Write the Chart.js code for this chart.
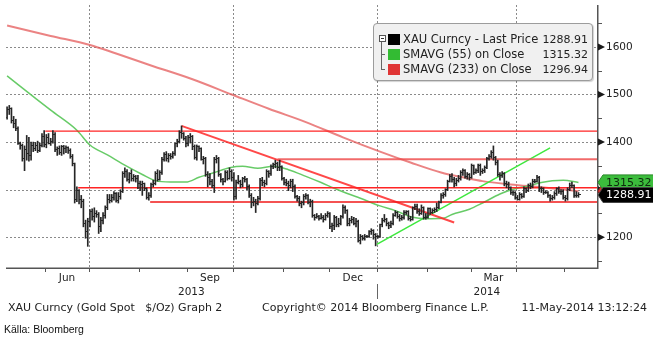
<!DOCTYPE html>
<html>
<head>
<meta charset="utf-8">
<script src="https://cdn.jsdelivr.net/npm/chart.js@4.4.1/dist/chart.umd.min.js"></script>
<style>
  html, body { margin: 0; padding: 0; background: #fff; }
  #wrap { position: relative; width: 653px; height: 339px; overflow: hidden;
          font-family: "DejaVu Sans", sans-serif; color: #222; }
  #wrap canvas { position: absolute; left: 0; top: 0; }
  .legend { position: absolute; left: 373px; top: 23px; width: 220px; height: 58px;
            box-sizing: border-box; background: #f0f0f0; border: 1px solid #9c9c9c;
            border-radius: 4px; box-shadow: 1px 1px 1px rgba(0,0,0,0.18); }
  .row { position: absolute; left: 0; width: 100%; height: 15px; font-size: 11.5px; line-height: 15px; }
  .sw { position: absolute; left: 14px; top: 2px; width: 12px; height: 11px; }
  .lbl { position: absolute; left: 29px; top: 0; white-space: pre; }
  .val { position: absolute; right: 4px; top: 0; font-size: 11px; }
  .tree-box { position: absolute; left: 5px; top: 11px; width: 5px; height: 5px; border: 1px solid #555; background: #fff; }
  .tree-box:after { content: ""; position: absolute; left: 1px; top: 2px; width: 3px; height: 1px; background: #333; }
  .tree-v { position: absolute; left: 7px; top: 18px; width: 1px; height: 27px; background: #666; }
  .tree-h { position: absolute; left: 7px; width: 4px; height: 1px; background: #666; }
  .foot { position: absolute; top: 300px; font-size: 11px; line-height: 15px; white-space: pre; color: #222; }
  .src { position: absolute; left: 4px; top: 322px; font-family: "Liberation Sans Narrow", "Liberation Sans", sans-serif;
         font-size: 10.5px; line-height: 14px; color: #111; }
</style>
</head>
<body>
<div id="wrap">
  <canvas id="chart" width="653" height="339"></canvas>
  <div class="legend">
    <div class="tree-box"></div>
    <div class="tree-v"></div>
    <div class="tree-h" style="top:30px"></div>
    <div class="tree-h" style="top:45px"></div>
    <div class="row" style="top:8px"><div class="sw" style="background:#000"></div><span class="lbl">XAU Curncy - Last Price</span><span class="val" id="vLast"></span></div>
    <div class="row" style="top:23px"><div class="sw" style="background:#33bb33"></div><span class="lbl">SMAVG (55) on Close</span><span class="val" id="vS55"></span></div>
    <div class="row" style="top:38px"><div class="sw" style="background:#e03535"></div><span class="lbl">SMAVG (233) on Close</span><span class="val" id="vS233"></span></div>
  </div>
  <div class="foot" style="left:8px">XAU Curncy (Gold Spot   $/Oz) Graph 2</div>
  <div class="foot" style="left:262px">Copyright© 2014 Bloomberg Finance L.P.</div>
  <div class="foot" style="right:6px">11-May-2014 13:12:24</div>
  <div class="src">Källa: Bloomberg</div>
</div>
<script>
// Daily gold spot bars, one per weekday from 8 May 2013 to 9 May 2014 (x = weekday number).
const opens = [
  1452,1468,1470,1446,1440,1428,1398,1392,1365,1385,1375,1372,1392,1386,1392,1382,1392,1412,
  1394,1410,1398,1402,1415,1384,1386,1378,1390,1386,1388,1382,1370,1354,1280,1298,1280,1276,1230,1212,
  1234,1254,1244,1250,1248,1222,1236,1246,1262,1280,1278,1284,1292,1278,1286,1296,1334,1338,1322,1334,1324,1328,1324,
  1314,1310,1312,1302,1284,1288,1310,1314,1334,1322,1336,1364,1374,1366,1372,1370,1376,1396,1402,1420,1418,1408,
  1396,1410,1412,1390,1368,1390,1386,1364,1366,1332,1326,1318,1308,1364,1366,1332,1322,1318,1336,1324,1338,
  1326,1286,1316,1318,1310,1324,1322,1306,1288,1274,1276,1272,1282,1320,1316,1314,1338,1334,1348,1352,1354,1346,1348,
  1324,1316,1314,1308,1318,1306,1286,1282,1272,1274,1286,1288,1274,1276,1246,1242,1244,1240,1242,1238,1246,
  1250,1222,1224,1242,1226,1230,1244,1262,1256,1228,1236,1238,1230,1234,1194,1202,1198,1202,1202,1212,1214,1206,
  1202,1202,1226,1236,1238,1228,1224,1228,1246,1252,1244,1240,1242,1252,1254,1240,1238,1262,1264,1254,1250,1262,1242,
  1242,1260,1252,1256,1258,1262,1274,1288,1290,1300,1318,1328,1322,1314,1320,1324,1336,1340,1328,1332,
  1326,1350,1336,1340,1350,1338,1340,1346,1366,1370,1378,1368,1358,1332,1330,1334,1312,1310,1304,1294,1294,
  1284,1280,1290,1286,1302,1298,1308,1306,1318,1318,1326,1302,1302,1294,1294,1288,1282,1284,1292,1302,1296,1296,
  1284,1282,1300,1308,1308,1288,1288
];
const highs = [
  1474,1477,1472,1454,1448,1432,1400,1396,1392,1414,1410,1400,1400,1399,1402,1398,1418,1424,
  1416,1418,1408,1424,1420,1390,1392,1393,1393,1392,1390,1386,1374,1356,1306,1300,1288,1280,1236,1240,
  1258,1260,1262,1256,1252,1242,1252,1266,1290,1290,1290,1296,1294,1294,1300,1338,1346,1342,1336,1342,1332,1330,1330,
  1318,1318,1314,1304,1294,1314,1320,1338,1342,1340,1368,1378,1380,1376,1376,1380,1398,1406,1424,1434,1420,1412,
  1414,1418,1414,1394,1394,1392,1388,1370,1368,1338,1334,1322,1368,1372,1368,1334,1324,1340,1340,1346,1342,
  1336,1320,1330,1320,1326,1328,1324,1310,1292,1284,1280,1286,1324,1326,1320,1342,1340,1352,1356,1362,1358,1362,1350,
  1326,1322,1318,1322,1322,1310,1288,1286,1276,1290,1292,1290,1280,1278,1248,1250,1246,1250,1246,1250,1254,
  1252,1230,1246,1244,1240,1246,1268,1266,1258,1240,1244,1242,1240,1236,1206,1204,1206,1204,1214,1218,1216,1208,
  1204,1228,1240,1248,1240,1232,1234,1250,1256,1254,1248,1246,1256,1256,1256,1244,1264,1270,1270,1260,1268,1264,1250,
  1262,1262,1260,1262,1272,1276,1292,1294,1302,1320,1332,1334,1326,1324,1330,1340,1344,1342,1336,1334,
  1354,1352,1344,1354,1354,1344,1350,1368,1374,1382,1392,1370,1362,1336,1338,1336,1318,1316,1306,1298,1296,
  1288,1294,1292,1306,1304,1312,1314,1322,1322,1330,1328,1306,1304,1298,1296,1290,1288,1296,1304,1306,1300,1300,
  1288,1304,1314,1316,1310,1296,1294
];
const lows = [
  1448,1458,1440,1430,1424,1395,1385,1360,1340,1362,1360,1362,1380,1382,1378,1380,1390,1390,
  1388,1396,1393,1398,1380,1372,1374,1372,1375,1378,1376,1366,1350,1272,1275,1270,1262,1222,1198,1181,
  1222,1236,1232,1242,1208,1212,1228,1240,1258,1272,1274,1278,1274,1272,1280,1294,1326,1318,1314,1318,1318,1316,1302,
  1298,1288,1298,1280,1278,1284,1306,1310,1318,1320,1332,1360,1360,1358,1364,1366,1372,1390,1398,1408,1404,1390,
  1392,1398,1384,1364,1362,1380,1362,1354,1328,1306,1310,1304,1294,1356,1328,1316,1310,1316,1320,1322,1318,
  1278,1280,1312,1304,1306,1316,1300,1284,1262,1266,1252,1268,1278,1308,1306,1310,1326,1330,1344,1346,1340,1340,1320,
  1310,1308,1298,1304,1296,1282,1276,1266,1262,1268,1280,1270,1264,1242,1236,1240,1236,1238,1232,1236,1242,
  1218,1212,1216,1222,1222,1226,1240,1250,1224,1224,1230,1226,1222,1190,1186,1194,1194,1200,1200,1206,1196,1182,
  1198,1200,1222,1232,1224,1218,1220,1226,1244,1240,1234,1236,1238,1248,1236,1234,1236,1258,1250,1246,1248,1238,1238,
  1240,1248,1250,1252,1254,1260,1272,1282,1286,1298,1316,1316,1306,1308,1316,1320,1330,1324,1322,1320,
  1324,1332,1334,1336,1330,1334,1336,1344,1362,1366,1362,1352,1328,1320,1326,1308,1304,1300,1290,1288,1280,
  1278,1278,1282,1284,1294,1296,1302,1304,1314,1316,1296,1294,1290,1292,1284,1276,1278,1280,1288,1292,1290,1280,
  1276,1278,1298,1304,1284,1284,1284
];
const closes = [
  1468,1470,1446,1440,1428,1398,1392,1365,1385,1375,1372,1392,1386,1392,1382,1392,1412,1394,
  1410,1398,1402,1415,1384,1386,1378,1390,1386,1388,1382,1370,1354,1280,1298,1280,1276,1230,1212,1234,
  1254,1244,1250,1248,1222,1236,1246,1262,1280,1278,1284,1292,1278,1286,1296,1334,1338,1322,1334,1324,1328,1324,1314,
  1310,1312,1302,1284,1288,1310,1314,1334,1322,1336,1364,1374,1366,1372,1370,1376,1396,1402,1420,1418,1408,1396,
  1410,1412,1390,1368,1390,1386,1364,1366,1332,1326,1318,1308,1364,1366,1332,1322,1318,1336,1324,1338,1326,
  1286,1316,1318,1310,1324,1322,1306,1288,1274,1276,1272,1282,1320,1316,1314,1338,1334,1348,1352,1354,1346,1348,1324,
  1316,1314,1308,1318,1306,1286,1282,1272,1274,1286,1288,1274,1276,1246,1242,1244,1240,1242,1238,1246,1250,
  1222,1224,1242,1226,1230,1244,1262,1256,1228,1236,1238,1230,1234,1194,1202,1198,1202,1202,1212,1214,1206,1202,
  1202,1226,1236,1238,1228,1224,1228,1246,1252,1244,1240,1242,1252,1254,1240,1238,1262,1264,1254,1250,1262,1242,1242,
  1260,1252,1256,1258,1262,1274,1288,1290,1300,1318,1328,1322,1314,1320,1324,1336,1340,1328,1332,1326,
  1350,1336,1340,1350,1338,1340,1346,1366,1370,1378,1368,1358,1332,1330,1334,1312,1310,1304,1294,1294,1284,
  1280,1290,1286,1302,1298,1308,1306,1318,1318,1326,1302,1302,1294,1294,1288,1282,1284,1292,1302,1296,1296,1284,
  1282,1300,1308,1308,1288,1288,1288.91
];

// 55-day and 233-day simple moving averages (weekday number, value)
const sma55Pos = [0, 10, 20, 32, 38, 46, 55, 62, 68, 75, 82, 88, 95, 102, 108, 115, 122, 129, 137, 144,
                  150, 156, 162, 171, 178, 186, 192, 200, 204, 212, 218, 226, 232, 240, 245, 250, 255, 262];
const sma55Val = [1539, 1503, 1467, 1425, 1394, 1373, 1349, 1332, 1319, 1316, 1316, 1326, 1336, 1346, 1349, 1345, 1349, 1342, 1328, 1315,
                  1303, 1292, 1282, 1266, 1256, 1242, 1239, 1240, 1248, 1259, 1272, 1291, 1301, 1309, 1315, 1319, 1320, 1315.32];
const sma233Pos = [0, 20, 38, 50, 66, 85, 103, 120, 137, 154, 171, 185, 199, 210, 218, 231, 245, 262];
const sma233Val = [1645, 1623, 1604, 1586, 1561, 1532, 1500, 1470, 1442, 1410, 1380, 1357, 1336, 1325, 1318, 1311, 1305, 1296.94];

// Support / resistance levels and the weekday where each one begins
const levelValues = [1423, 1364, 1304, 1274];
const levelStarts = [17.5, 124, 32.6, 65.6];
const levelColors = ['#ff2424', 'rgba(238,80,80,0.85)', '#ff2424', '#f01818'];
const levelWidths = [1.3, 2, 1.5, 1.5];

// Trend lines
const downTrendPos = [80, 205];
const downTrendVal = [1434, 1231];
const upTrendPos = [169.5, 249];
const upTrendVal = [1185, 1388];

// Axis layout (weekday numbers)
const xMin = -0.5, xMax = 270.5;
const yMin = 1135.5, yMax = 1688;
const monthStarts = [17.5, 37.5, 60.5, 82.5, 103.5, 126.5, 147.5, 169.5, 192.5, 212.5, 233.5, 255.5];
const quarterStarts = [37.5, 103.5, 169.5, 233.5];
const monthLabels = ['Jun', 'Sep', 'Dec', 'Mar'];
const monthLabelPos = [27.5, 93, 158.5, 223];
const yearLabels = ['2013', '2014'];
const yearBreak = 169.5;
const priceTicks = [1200, 1300, 1400, 1500, 1600];
const minorTicks = [1150, 1250, 1350, 1450, 1550, 1650];

const last = closes.length - 1;
document.getElementById('vLast').textContent = closes[last].toFixed(2);
document.getElementById('vS55').textContent = sma55Val[sma55Val.length - 1].toFixed(2);
document.getElementById('vS233').textContent = sma233Val[sma233Val.length - 1].toFixed(2);

// open tick (left) and close tick (right) as small point images
function tickImage(side) {
  const c = document.createElement('canvas');
  c.width = 5; c.height = 1;
  const g = c.getContext('2d');
  g.fillStyle = '#262626';
  g.fillRect(side < 0 ? 0 : 3, 0, 2, 1);
  return c;
}

const days = closes.map((_, i) => i);
const pts = (xs, ys) => xs.map((x, i) => ({x, y: ys[i]}));

const datasets = [
  {type: 'bar', data: days.map(i => ({x: i, y: [lows[i], highs[i]]})), backgroundColor: '#262626',
   borderWidth: 0, barThickness: 1, grouped: false, order: 1},
  {type: 'line', data: days.map(i => ({x: i, y: opens[i]})), showLine: false,
   pointStyle: tickImage(-1), pointRadius: 1, order: 0},
  {type: 'line', data: days.map(i => ({x: i, y: closes[i]})), showLine: false,
   pointStyle: tickImage(1), pointRadius: 1, order: 0},
  {type: 'line', data: pts(sma55Pos, sma55Val), borderColor: 'rgba(95,200,95,0.95)', borderWidth: 1.5,
   pointRadius: 0, cubicInterpolationMode: 'monotone', order: 5},
  {type: 'line', data: pts(sma233Pos, sma233Val), borderColor: 'rgba(228,90,90,0.75)', borderWidth: 2,
   pointRadius: 0, cubicInterpolationMode: 'monotone', order: 6},
  {type: 'line', data: pts(downTrendPos, downTrendVal), borderColor: 'rgba(255,40,40,0.85)', borderWidth: 2,
   pointRadius: 0, order: 4},
  {type: 'line', data: pts(upTrendPos, upTrendVal), borderColor: '#3ee83e', borderWidth: 1.5,
   pointRadius: 0, order: 4}
];
levelValues.forEach((v, k) => {
  datasets.push({type: 'line', data: pts([levelStarts[k], xMax], [v, v]), borderColor: levelColors[k],
                 borderWidth: levelWidths[k], pointRadius: 0, order: 3});
});

const decor = {
  id: 'decor',
  beforeDatasetsDraw(chart) {
    const {ctx, chartArea: a, scales: {x, y}} = chart;
    ctx.save();
    ctx.strokeStyle = '#8a8a8a';
    ctx.lineWidth = 1;
    ctx.setLineDash([2, 2]);
    ctx.beginPath();
    priceTicks.forEach(v => {
      const py = Math.round(y.getPixelForValue(v)) + 0.5;
      ctx.moveTo(a.left, py); ctx.lineTo(a.right, py);
    });
    quarterStarts.forEach(m => {
      const px = Math.round(x.getPixelForValue(m)) + 0.5;
      ctx.moveTo(px, a.top); ctx.lineTo(px, a.bottom + 3);
    });
    ctx.stroke();
    ctx.restore();
  },
  afterDraw(chart) {
    const {ctx, chartArea: a, scales: {x, y}} = chart;
    ctx.save();
    // axis lines
    ctx.strokeStyle = '#555';
    ctx.lineWidth = 1.5;
    ctx.beginPath();
    ctx.moveTo(a.left, a.bottom + 0.25); ctx.lineTo(a.right + 1, a.bottom + 0.25);
    ctx.moveTo(a.right + 0.75, a.top); ctx.lineTo(a.right + 0.75, a.bottom + 1);
    ctx.stroke();
    // month ticks and minor price ticks
    ctx.lineWidth = 1;
    ctx.beginPath();
    monthStarts.forEach(m => {
      const px = Math.round(x.getPixelForValue(m)) + 0.5;
      ctx.moveTo(px, a.bottom); ctx.lineTo(px, a.bottom + 4);
    });
    minorTicks.forEach(v => {
      const py = Math.round(y.getPixelForValue(v)) + 0.5;
      ctx.moveTo(a.right, py); ctx.lineTo(a.right + 5, py);
    });
    ctx.stroke();
    // major tick arrows
    ctx.fillStyle = '#1a1a1a';
    priceTicks.forEach(v => {
      const py = y.getPixelForValue(v);
      ctx.beginPath();
      ctx.moveTo(a.right + 1, py - 3.5); ctx.lineTo(a.right + 8, py); ctx.lineTo(a.right + 1, py + 3.5);
      ctx.closePath(); ctx.fill();
    });
    // year labels and separator
    ctx.font = '10.5px "DejaVu Sans"';
    ctx.fillStyle = '#222';
    ctx.textAlign = 'center';
    ctx.textBaseline = 'middle';
    const bx = x.getPixelForValue(yearBreak);
    ctx.fillText(yearLabels[0], (x.getPixelForValue(xMin) + bx) / 2, a.bottom + 24);
    ctx.fillText(yearLabels[1], (bx + x.getPixelForValue(xMax)) / 2, a.bottom + 24);
    ctx.strokeStyle = '#666';
    ctx.beginPath();
    ctx.moveTo(Math.round(bx) + 0.5, a.bottom + 16); ctx.lineTo(Math.round(bx) + 0.5, a.bottom + 31);
    ctx.stroke();
    // last-value tags on the price axis
    const tags = [
      {v: sma233Val[sma233Val.length - 1], fill: '#e03535', stroke: '#b02020', text: '#fff'},
      {v: sma55Val[sma55Val.length - 1], fill: '#3cbc3c', stroke: '#2a8a2a', text: '#0d2a0d'},
      {v: closes[last], fill: '#000', stroke: '#444', text: '#fff'}
    ];
    ctx.textAlign = 'left';
    ctx.font = '11px "DejaVu Sans"';
    tags.forEach(t => {
      const py = y.getPixelForValue(t.v);
      const l = a.right + 1, r = chart.width + 2, h = 7.5;
      ctx.beginPath();
      ctx.moveTo(l, py); ctx.lineTo(l + 5, py - h); ctx.lineTo(r, py - h);
      ctx.lineTo(r, py + h); ctx.lineTo(l + 5, py + h); ctx.closePath();
      ctx.fillStyle = t.fill; ctx.fill();
      ctx.strokeStyle = t.stroke; ctx.lineWidth = 1; ctx.stroke();
      ctx.fillStyle = t.text;
      ctx.fillText(t.v.toFixed(2), a.right + 9, py + 0.5);
    });
    ctx.restore();
  }
};

new Chart(document.getElementById('chart'), {
  type: 'line',
  data: {datasets},
  options: {
    responsive: false,
    animation: false,
    events: [],
    layout: {padding: {left: 6, top: 0, right: 0, bottom: 0}},
    plugins: {legend: {display: false}, tooltip: {enabled: false}},
    scales: {
      x: {
        type: 'linear', min: xMin, max: xMax, offset: false,
        grid: {display: false, drawTicks: false}, border: {display: false},
        afterBuildTicks: s => { s.ticks = monthLabelPos.map(v => ({value: v})); },
        afterFit: s => { s.height = 71; s.paddingLeft = 0; s.paddingRight = 0; },
        ticks: {autoSkip: false, maxRotation: 0, minRotation: 0, padding: 4, color: '#222',
                font: {family: 'DejaVu Sans', size: 10.5},
                callback: (v, i) => monthLabels[i]}
      },
      y: {
        type: 'linear', position: 'right', min: yMin, max: yMax,
        grid: {display: false, drawTicks: false}, border: {display: false},
        afterBuildTicks: s => { s.ticks = priceTicks.map(v => ({value: v})); },
        afterFit: s => { s.width = 56; s.paddingTop = 0; s.paddingBottom = 0; },
        ticks: {padding: 9, color: '#222', font: {family: 'DejaVu Sans', size: 10.5},
                callback: v => String(v)}
      }
    }
  },
  plugins: [decor]
});
</script>
</body>
</html>
